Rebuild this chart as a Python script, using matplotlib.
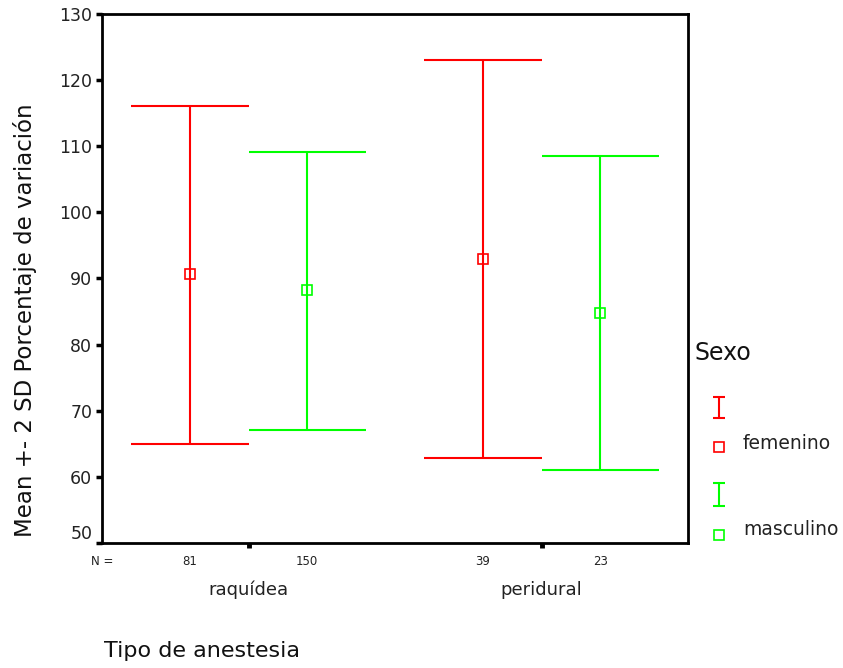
import numpy as np
import matplotlib
matplotlib.use('Agg')
import matplotlib.pyplot as plt


## data

categories = ['raquídea', 'peridural']
sexes = ['femenino', 'masculino']
colors = ['#ff0000', '#00ff00']

# counts per category, per sex
n_fem = [81, 39]
n_masc = [150, 23]

# mean and mean +- 2 SD
mean_fem = [90.7, 93.0]
mean_masc = [88.2, 84.8]
upper_fem = [116.1, 123.1]
upper_masc = [109.1, 108.5]
lower_fem = [65.0, 62.9]
lower_masc = [67.1, 61.0]

yticks = [50, 60, 70, 80, 90, 100, 110, 120, 130]


## draw

plt.rcParams['font.family'] = ['DejaVu Sans']

fig = plt.figure(figsize=(8.43, 6.68), dpi=100)
ax = fig.add_axes([102/843, 125/668, 586/843, 529/668])

x = np.arange(1, len(categories)+1)
offset = 0.2
half_cap = 0.2

groups = [
	(x - offset, mean_fem, lower_fem, upper_fem, n_fem, colors[0]),
	(x + offset, mean_masc, lower_masc, upper_masc, n_masc, colors[1]),
]

for xs, means, lows, highs, ns, col in groups:
	ax.vlines(xs, lows, highs, color=col, lw=1.5)
	ax.hlines(lows, xs-half_cap, xs+half_cap, color=col, lw=1.5)
	ax.hlines(highs, xs-half_cap, xs+half_cap, color=col, lw=1.5)
	ax.plot(xs, means, ls='none', marker='s', ms=6.5, mew=1.2,
		mec=col, mfc='none')
	# N = counts under the axis
	for xi, ni in zip(xs, ns):
		ax.text(xi, -0.0354, str(ni), transform=ax.get_xaxis_transform(),
			ha='center', va='center', fontsize=8.5, color='#222222')

ax.text(0.5, -0.0354, 'N =', transform=ax.get_xaxis_transform(),
	ha='center', va='center', fontsize=8.5, color='#222222')

for xi, cat in zip(x, categories):
	ax.text(xi, -0.0888, cat, transform=ax.get_xaxis_transform(),
		ha='center', va='center', fontsize=13, color='#222222')

ax.set_xlim(0.5, len(categories)+0.5)
ax.set_ylim(50, 130)
ax.set_xticks(x)
ax.set_xticklabels(['']*len(x))
ax.set_yticks(yticks)
ax.set_yticklabels([str(t) for t in yticks])
ax.tick_params(axis='y', direction='out', length=4, width=2.5, labelsize=12.5,
	pad=3, labelcolor='#222222')
ax.tick_params(axis='x', direction='out', length=3.5, width=3.5)
ax.yaxis.get_major_ticks()[0].label1.set_verticalalignment('bottom')
for sp in ax.spines.values():
	sp.set_linewidth(2)


## titles and legend on a pixel overlay

ov = fig.add_axes([0, 0, 1, 1], zorder=-1)
ov.set_xlim(0, 843)
ov.set_ylim(668, 0)
ov.axis('off')

ov.text(25, 320, 'Mean +- 2 SD Porcentaje de variación', rotation=90,
	ha='center', va='center', fontsize=16.5, color='#111111')
ov.text(202, 657, 'Tipo de anestesia', ha='center', va='baseline',
	fontsize=16, color='#111111')

ov.text(695, 360, 'Sexo', ha='left', va='baseline', fontsize=17, color='#111111')

legend_rows = [(396.5, 418, 446.5, 449), (483, 506, 534.5, 535)]
for (top, bot, sq, base), label, col in zip(legend_rows, sexes, colors):
	ov.vlines(719, top, bot, color=col, lw=1.5)
	ov.hlines([top, bot], 713, 725, color=col, lw=1.5)
	ov.plot([719], [sq], ls='none', marker='s', ms=6.5, mew=1.2, mec=col, mfc='none')
	ov.text(743, base, label, ha='left', va='baseline', fontsize=13.5, color='#222222')

fig.savefig('out.png', dpi=100)
